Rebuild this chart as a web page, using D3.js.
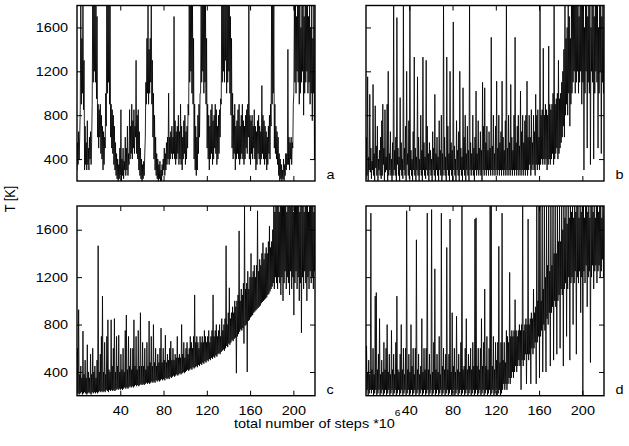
<!DOCTYPE html>
<html>
<head>
<meta charset="utf-8">
<script src="https://cdn.jsdelivr.net/npm/d3@7"></script>
<style>
body { margin: 0; background: #fff; }
svg { display: block; font-family: "Liberation Sans", Arial, sans-serif; }
.frame { fill: none; stroke: #000; stroke-width: 1.4; }
.trace { fill: none; stroke: #000; stroke-width: 0.85; }
.axis path { display: none; }
.axis line { stroke: #000; stroke-width: 1; }
.axis text, .label { font-family: "Liberation Sans", Arial, sans-serif; font-size: 12.7px; fill: #000; }
</style>
</head>
<body>
<div id="graph"></div>
<script>
// T [K]: for every 10^6 steps the low and the high end of the trace
let traceA = [
  300,550, 350,650, 400,600, 850,1800, 900,1500,
  1000,1800, 850,1300, 300,700, 350,550, 300,750,
  350,500, 300,600, 400,650, 350,550, 900,1800,
  1100,1800, 1200,1800, 1100,1800, 950,1700, 600,900,
  500,850, 600,900, 450,800, 400,700, 300,650,
  350,600, 500,1000, 700,1800, 1000,1800, 1100,1800,
  900,1800, 600,900, 500,850, 450,800, 350,700,
  300,550, 250,450, 220,400, 200,350, 220,500,
  250,850, 200,400, 250,500, 220,380, 300,600,
  250,500, 300,700, 250,450, 350,850, 400,700,
  450,900, 400,750, 500,850, 450,700, 600,1300,
  450,800, 400,850, 300,650, 250,500, 220,400,
  200,350, 220,380, 250,450, 600,1100, 900,1500,
  1000,1800, 900,1400, 1000,1500, 1100,1800, 900,1300,
  600,1000, 400,800, 300,600, 250,450, 220,400,
  200,350, 220,380, 200,300, 200,350, 250,400,
  300,500, 250,450, 300,550, 350,600, 400,1000,
  350,600, 400,650, 450,700, 400,600, 450,1700,
  400,750, 350,650, 400,700, 450,800, 350,650,
  400,900, 350,700, 300,600, 400,750, 450,800,
  350,650, 400,700, 500,900, 800,1800, 1100,1800,
  1200,1800, 1000,1800, 900,1500, 400,900, 300,700,
  250,600, 300,800, 450,900, 600,1000, 1000,1800,
  1100,1800, 1200,1800, 1000,1800, 1100,1800, 900,1500,
  500,900, 400,800, 300,700, 400,850, 450,900,
  350,750, 400,800, 500,900, 450,850, 350,700,
  400,800, 450,850, 600,950, 900,1800, 1100,1800,
  1200,1800, 1100,1800, 1300,1800, 1000,1800, 1100,1800,
  1200,1800, 1000,1700, 800,1500, 500,1000, 400,800,
  450,900, 300,700, 400,750, 450,850, 400,900,
  350,700, 400,800, 450,900, 400,750, 350,700,
  400,800, 500,850, 450,900, 600,1800, 400,800,
  350,750, 450,800, 400,700, 500,850, 400,700,
  300,650, 350,750, 450,800, 400,700, 350,650,
  400,1070, 450,800, 400,750, 350,700, 400,650,
  300,600, 350,700, 450,800, 400,900, 700,1800,
  900,1800, 1000,1800, 500,900, 450,700, 400,650,
  350,600, 250,450, 200,400, 220,350, 200,300,
  220,400, 200,350, 250,450, 300,450, 350,1400,
  350,600, 300,550, 400,600, 350,550, 500,900,
  1000,1800, 1100,1800, 1000,1700, 1200,1800, 1100,1800,
  900,1800, 1000,1600, 1100,1800, 1200,1800, 800,1700,
  1000,1800, 1100,1800, 1200,1800, 1000,1700, 1100,1800,
  900,1600, 1000,1800, 750,1500, 1000,1800, 400,1600
];

let traceB = [
  220,600, 250,1150, 200,420, 300,990, 280,500,
  220,380, 300,1080, 250,450, 200,886, 320,520,
  250,700, 200,400, 300,480, 250,600, 220,750,
  250,900, 350,500, 200,850, 280,420, 300,900,
  200,1200, 250,450, 300,650, 250,400, 200,550,
  250,1800, 300,480, 250,600, 200,1690, 350,500,
  250,420, 200,960, 300,550, 250,400, 220,1800,
  300,500, 250,700, 200,1200, 350,450, 250,750,
  220,1800, 300,480, 250,400, 200,650, 300,1330,
  250,500, 200,420, 300,1150, 250,600, 200,400,
  300,800, 250,480, 200,1330, 300,550, 250,420,
  220,1300, 300,700, 250,450, 200,550, 300,480,
  250,400, 200,650, 300,500, 250,990, 200,450,
  300,600, 250,420, 200,750, 300,480, 250,800,
  200,450, 250,1800, 300,600, 250,420, 200,1330,
  300,700, 250,450, 200,1200, 300,550, 250,480,
  200,1650, 300,520, 250,400, 200,750, 300,480,
  250,650, 200,1200, 300,500, 250,420, 200,1050,
  300,600, 250,800, 200,450, 300,700, 250,480,
  200,1800, 300,550, 250,450, 300,800, 250,500,
  200,600, 300,1020, 250,450, 300,750, 250,500,
  300,650, 250,480, 200,1100, 300,700, 250,1050,
  300,550, 250,700, 300,480, 250,650, 300,500,
  250,1510, 300,520, 250,800, 300,450, 250,700,
  300,1110, 250,500, 300,800, 250,550, 300,650,
  250,1110, 300,600, 250,480, 300,750, 250,1800,
  300,500, 250,800, 300,550, 250,1080, 300,600,
  250,480, 300,800, 250,1510, 300,550, 250,700,
  300,800, 250,520, 300,1020, 250,650, 300,800,
  250,550, 300,750, 250,800, 300,1110, 250,600,
  300,800, 350,600, 250,850, 300,550, 350,800,
  300,650, 250,990, 350,800, 300,850, 350,600,
  300,1800, 350,800, 400,850, 350,1410, 400,800,
  350,900, 400,850, 300,800, 350,1430, 400,900,
  350,850, 400,900, 450,1000, 350,1800, 400,900,
  450,950, 500,1000, 400,1300, 450,950, 500,1000,
  550,1100, 600,1200, 700,1400, 600,1800, 800,1500,
  900,1600, 800,1800, 1000,1700, 700,1500, 900,1800,
  1000,1800, 1100,1800, 1200,1800, 1000,1800, 1100,1800,
  1200,1800, 1000,1700, 1100,1800, 1200,1800, 900,1800,
  1100,1800, 300,1600, 1000,1800, 1200,1800, 500,1700,
  1100,1800, 1000,1800, 350,1600, 1200,1800, 1100,1800,
  400,1700, 1000,1800, 1200,1800, 1100,1800, 500,1600,
  1000,1800, 1200,1800, 450,1700, 1100,1800, 1000,1600
];

let traceC = [
  210,600, 220,925, 210,380, 220,450, 230,350,
  210,745, 220,380, 230,500, 220,350, 210,630,
  220,400, 230,350, 220,550, 210,380, 230,600,
  220,400, 230,450, 220,350, 230,500, 220,1465,
  230,400, 240,550, 230,700, 240,1040, 230,400,
  240,650, 230,380, 250,700, 240,840, 230,420,
  250,400, 240,840, 250,450, 240,600, 250,850,
  240,400, 250,700, 260,450, 250,710, 260,400,
  250,550, 260,420, 250,600, 260,400, 270,750,
  260,880, 270,420, 260,700, 270,450, 280,600,
  270,420, 280,600, 270,840, 280,450, 290,700,
  280,420, 290,750, 280,450, 290,900, 300,450,
  290,650, 300,450, 290,600, 300,420, 310,650,
  300,450, 310,830, 300,480, 310,700, 320,450,
  310,800, 320,480, 310,600, 330,450, 320,550,
  330,480, 320,600, 330,770, 340,480, 330,600,
  340,500, 330,710, 350,480, 340,550, 350,500,
  340,600, 360,660, 350,500, 360,600, 370,500,
  360,550, 370,520, 380,700, 370,520, 380,550,
  390,520, 380,800, 390,550, 400,650, 390,520,
  400,600, 410,650, 420,550, 410,600, 420,700,
  430,650, 420,600, 440,700, 430,1050, 440,650,
  450,700, 440,650, 460,600, 450,700, 470,650,
  460,700, 480,650, 470,750, 490,700, 480,650,
  500,700, 490,750, 510,650, 500,700, 520,750,
  510,1050, 530,700, 520,750, 540,800, 530,700,
  550,750, 560,800, 550,700, 570,850, 580,750,
  590,800, 580,850, 600,1465, 620,800, 610,900,
  640,1110, 630,850, 650,900, 670,950, 660,900,
  680,1000, 690,950, 390,1000, 700,1050, 720,1590,
  740,1000, 760,1100, 750,1050, 770,1150, 640,1800,
  790,1100, 800,1150, 400,1250, 830,1100, 840,1200,
  860,1400, 870,1200, 880,1250, 900,1300, 910,1200,
  920,1300, 930,1760, 940,1250, 950,1350, 960,1300,
  980,1400, 990,1490, 1000,1350, 1010,1400, 1020,1450,
  1030,1400, 1050,1500, 1060,1630, 1080,1450, 1100,1500,
  1120,1600, 1150,1800, 1100,1750, 1200,1800, 1150,1800,
  1100,1800, 1200,1750, 1150,1800, 1050,1800, 1200,1800,
  1000,1800, 1150,1800, 1250,1800, 1100,1750, 1200,1800,
  1150,1800, 1050,1800, 1250,1800, 1100,1800, 1200,1750,
  880,1800, 1150,1800, 1250,1800, 1100,1800, 1200,1800,
  1000,1750, 1150,1800, 730,1800, 1200,1800, 1100,1750,
  1250,1800, 1150,1800, 1000,1800, 1200,1750, 1100,1800,
  1250,1800, 1150,1800, 1200,1800, 1100,1750, 1250,1800
];

let traceD = [
  220,620, 250,400, 200,500, 220,380, 250,1740,
  220,420, 250,600, 200,380, 220,1040, 250,1070,
  200,420, 220,550, 250,850, 200,380, 220,500,
  250,400, 200,650, 220,420, 250,600, 200,800,
  220,400, 250,550, 200,380, 220,750, 250,420,
  200,550, 220,380, 250,650, 200,1040, 220,420,
  250,400, 200,550, 220,800, 250,420, 200,600,
  220,380, 250,600, 200,1760, 220,420, 250,550,
  200,400, 220,800, 250,450, 200,600, 220,380,
  250,600, 200,1515, 220,420, 250,550, 200,380,
  220,450, 250,850, 200,400, 220,600, 250,420,
  200,600, 220,1740, 250,420, 200,550, 220,380,
  250,1770, 200,400, 220,650, 250,1270, 200,420,
  220,550, 250,400, 200,700, 220,380, 250,1740,
  200,450, 220,600, 250,420, 200,550, 220,1450,
  250,420, 200,550, 220,1690, 250,400, 200,900,
  220,450, 250,600, 200,400, 220,870, 250,420,
  200,550, 220,400, 250,650, 200,1800, 220,420,
  250,450, 200,600, 220,850, 250,420, 200,550,
  220,450, 250,600, 200,420, 220,650, 250,450,
  200,1690, 220,1700, 250,450, 200,600, 220,420,
  250,600, 200,850, 220,450, 250,650, 200,1100,
  220,450, 250,700, 200,420, 220,600, 250,1800,
  200,1800, 220,450, 250,700, 200,420, 220,650,
  250,500, 200,650, 220,1460, 250,480, 200,650,
  220,1740, 250,500, 300,650, 250,480, 300,750,
  250,700, 300,650, 350,1240, 300,700, 350,750,
  400,700, 350,750, 400,1010, 450,750, 400,700,
  450,750, 500,800, 450,750, 250,800, 500,1800,
  450,750, 500,800, 550,850, 300,800, 550,1690,
  500,800, 550,850, 300,900, 600,850, 550,1100,
  600,900, 650,950, 300,1800, 650,1000, 700,1800,
  350,1800, 700,1000, 750,1800, 400,1100, 800,1800,
  750,1200, 400,1800, 850,1300, 800,1800, 900,1250,
  450,1800, 900,1300, 950,1800, 500,1400, 1000,1800,
  950,1400, 550,1800, 1000,1500, 1050,1800, 600,1500,
  1100,1800, 1050,1600, 450,1800, 1100,1700, 1150,1800,
  700,1650, 1100,1800, 1200,1700, 500,1800, 1150,1750,
  1200,1800, 800,1700, 1150,1800, 1250,1750, 550,1800,
  1200,1800, 1150,1700, 1250,1800, 900,1750, 1200,1800,
  200,1800, 1250,1700, 1150,1800, 1300,1800, 950,1750,
  1200,1800, 1250,1700, 480,1800, 1200,1800, 1300,1750,
  1100,1800, 1250,1700, 1300,1800, 1150,1800, 1250,1750,
  1300,1800, 1200,1800, 1250,1700, 1350,1800, 1200,1750
];

let letters = ["a", "b", "c", "d"];
let yTicks = [400, 800, 1200, 1600];
let xTicks = [40, 80, 120, 160, 200];
let stepRange = [0, 220];
let tRange = [200, 1800];

let width = 629,
    height = 446;
let sx = 1.14; // the printed figure is a bit wider than tall

let panels = [
  {data: traceA, left: 77, right: 315, top: 5.5, bottom: 181, yLabels: true, xLabels: false},
  {data: traceB, left: 366, right: 604, top: 5.5, bottom: 181, yLabels: false, xLabels: false},
  {data: traceC, left: 77, right: 315, top: 206, bottom: 395.7, yLabels: true, xLabels: true},
  {data: traceD, left: 366, right: 604, top: 206, bottom: 395.7, yLabels: false, xLabels: true}
];

let svg = d3.select("#graph").append("svg")
    .attr("width", width)
    .attr("height", height);

panels.forEach((p, i) => {
  let x = d3.scaleLinear().domain(stepRange).range([p.left, p.right]);
  let y = d3.scaleLinear().domain(tRange).range([p.bottom, p.top]);
  let n = p.data.length;

  let line = d3.line()
      .x((d, j) => x(j * stepRange[1] / (n - 1)))
      .y(d => y(d));

  let g = svg.append("g").attr("id", "panel_" + letters[i]);

  g.append("clipPath").attr("id", "clip" + i)
    .append("rect")
      .attr("x", p.left)
      .attr("y", p.top)
      .attr("width", p.right - p.left)
      .attr("height", p.bottom - p.top);

  g.append("path")
      .datum(p.data)
      .attr("class", "trace")
      .attr("clip-path", "url(#clip" + i + ")")
      .attr("d", line);

  // ticks point inwards on all four sides
  let left = g.append("g").attr("class", "axis")
      .attr("transform", "translate(" + p.left + ",0)")
      .call(d3.axisLeft(y).tickValues(yTicks).tickFormat(d3.format("d")).tickSize(-5).tickPadding(9));
  if (p.yLabels) {
    left.selectAll("text").attr("x", -9 / sx).attr("transform", "scale(" + sx + ",1)");
  } else {
    left.selectAll("text").remove();
  }

  g.append("g").attr("class", "axis")
      .attr("transform", "translate(" + p.right + ",0)")
      .call(d3.axisRight(y).tickValues(yTicks).tickSize(-5))
    .selectAll("text").remove();

  g.append("g").attr("class", "axis")
      .attr("transform", "translate(0," + p.top + ")")
      .call(d3.axisTop(x).tickValues(xTicks).tickSize(-5))
    .selectAll("text").remove();

  let bottom = g.append("g").attr("class", "axis")
      .attr("transform", "translate(0," + p.bottom + ")")
      .call(d3.axisBottom(x).tickValues(xTicks).tickFormat(d3.format("d")).tickSize(-5).tickPadding(10));
  if (p.xLabels) {
    bottom.selectAll("text").attr("transform", "scale(" + sx + ",1)");
  } else {
    bottom.selectAll("text").remove();
  }

  g.append("rect")
      .attr("class", "frame")
      .attr("x", p.left)
      .attr("y", p.top)
      .attr("width", p.right - p.left)
      .attr("height", p.bottom - p.top);

  g.append("text")
      .attr("class", "label")
      .attr("transform", "translate(" + (p.right + 11.5) + "," + (p.bottom - 2) + ") scale(" + sx + ",1)")
      .text(letters[i]);
});

svg.append("text")
    .attr("class", "label")
    .attr("text-anchor", "middle")
    .attr("transform", "translate(14.5,199) rotate(-90) scale(1," + sx + ")")
    .text("T [K]");

let xTitle = svg.append("text")
    .attr("class", "label")
    .attr("transform", "translate(234,428) scale(" + sx + ",1)");
xTitle.append("tspan").text("total number of steps *10");
xTitle.append("tspan").attr("dy", -12).style("font-size", "9px").text("6");
</script>
</body>
</html>
